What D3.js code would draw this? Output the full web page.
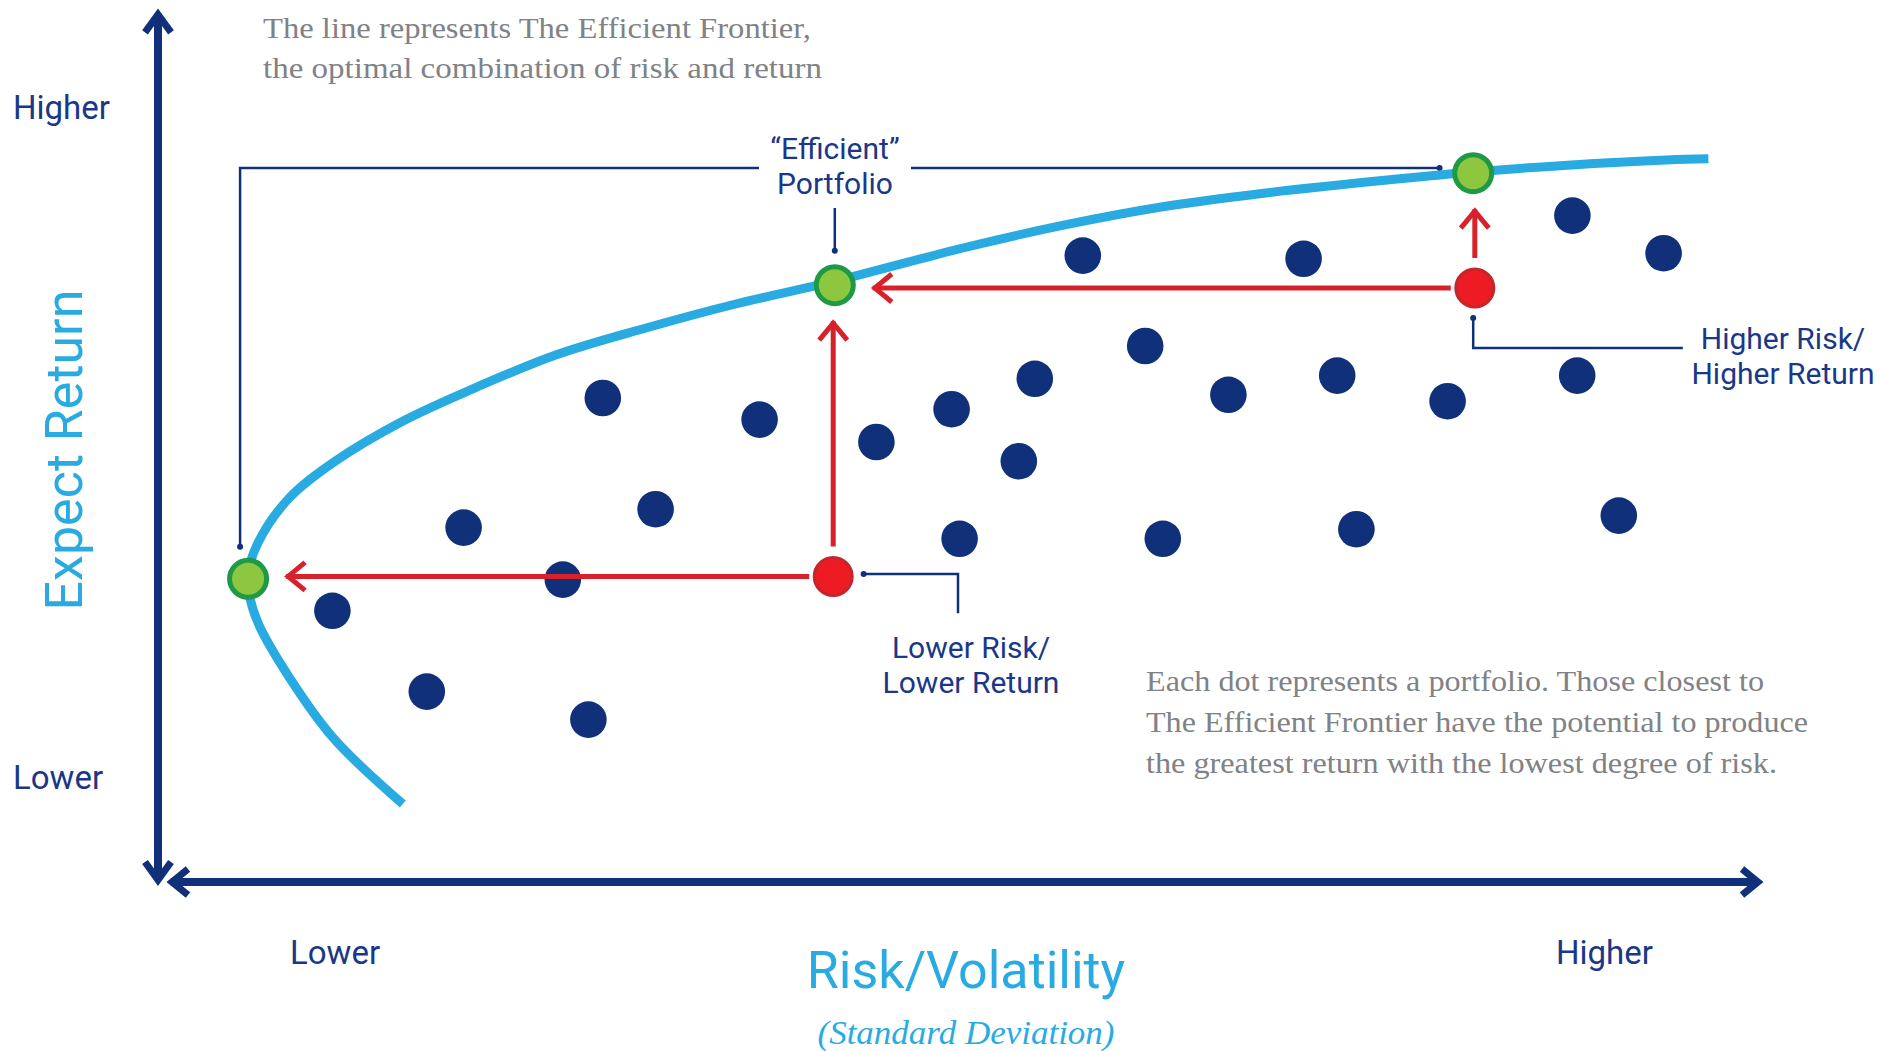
<!DOCTYPE html>
<html>
<head>
<meta charset="utf-8">
<script src="https://cdn.jsdelivr.net/npm/d3@7"></script>
<style>
  html, body { margin: 0; padding: 0; background: #fff; }
  svg { display: block; }
</style>
</head>
<body>
<svg id="chart"></svg>
<script>
// risk / return are in relative units (0-100)

// the efficient frontier, bottom branch first
const frontierRisk = [15.3, 11.0, 8.2, 6.25, 5.63, 5.56, 6.25, 8.2, 11.0, 15.2, 19.4, 24.9, 30.5, 36.1, 42.3, 50.3, 56.6, 62.8, 69.1, 77.6, 82.2, 88.1, 94.3, 96.9];
const frontierReturn = [9.75, 17.9, 25.6, 32.4, 36.5, 37.9, 42.4, 48.0, 52.5, 57.5, 61.4, 65.9, 69.25, 72.25, 75.1, 79.25, 82.1, 84.4, 86.1, 87.9, 88.75, 89.6, 90.25, 90.4];

// the blue dots (portfolios)
const portfolioRisk = [10.9, 16.8, 19.1, 25.3, 26.9, 27.8, 31.1, 37.6, 44.9, 49.6, 50.1, 53.8, 54.8, 57.8, 61.7, 62.8, 66.9, 71.6, 73.7, 74.9, 80.6, 88.4, 88.7, 91.3, 94.1];
const portfolioReturn = [33.9, 23.8, 44.3, 37.8, 20.3, 60.5, 46.6, 57.8, 55.0, 59.1, 42.9, 52.6, 62.9, 78.3, 67.0, 42.9, 60.9, 77.9, 63.3, 44.1, 60.1, 83.3, 63.3, 45.8, 78.6];

// efficient portfolios (green) on the frontier
const efficientRisk = [5.63, 42.3, 82.2];
const efficientReturn = [37.9, 74.6, 88.6];

// inefficient portfolios (red)
const redRisk = [42.2, 82.3];
const redReturn = [38.2, 74.25];

// moves: red index -> green index
const moveFrom = [0, 0, 1, 1];
const moveTo = [0, 1, 1, 2];
const moveDir = ['h', 'v', 'h', 'v'];

const yTickLabels = ['Higher', 'Lower'];
const xTickLabels = ['Lower', 'Higher'];

const W = 1881, H = 1051;
const navy = '#10307a';
const textNavy = '#1a3887';
const sky = '#29abe2';
const grey = '#808286';

const svg = d3.select('#chart').attr('width', W).attr('height', H);
svg.append('rect').attr('width', W).attr('height', H).attr('fill', '#fff');

const x = d3.scaleLinear().domain([0, 100]).range([158, 1758]);
const y = d3.scaleLinear().domain([0, 100]).range([882, 82]);

// ---- axes with arrows
const axisG = svg.append('g').attr('stroke', navy).attr('fill', 'none');
axisG.append('line')
    .attr('x1', x(0)).attr('x2', x(0))
    .attr('y1', y(108.2)).attr('y2', y(0.6))
    .attr('stroke-width', 8);
axisG.append('line')
    .attr('x1', x(0.8)).attr('x2', x(99.9))
    .attr('y1', y(0)).attr('y2', y(0))
    .attr('stroke-width', 8);

function chevron(g, tx, ty, dx, dy, back, half, color, sw) {
    // dx,dy = unit direction of the arrow
    const bx = tx - dx * back, by = ty - dy * back;
    const px = -dy, py = dx;
    g.append('polyline')
        .attr('points', [[bx + px * half, by + py * half], [tx, ty], [bx - px * half, by - py * half]].map(p => p.join(',')).join(' '))
        .attr('fill', 'none')
        .attr('stroke', color)
        .attr('stroke-width', sw)
        .attr('stroke-linejoin', 'miter')
        .attr('stroke-miterlimit', 10);
}
chevron(axisG, x(0), y(108.2) - 2, 0, -1, 18, 13, navy, 7);
chevron(axisG, x(0), y(0) - 2, 0, 1, 18, 13, navy, 7);
chevron(axisG, x(0.75) + 2, y(0), -1, 0, 16, 13, navy, 7);
chevron(axisG, x(100), y(0), 1, 0, 16, 13, navy, 7);

// ---- axis labels
const sans = 'Roboto, "Noto Sans", sans-serif';
const serif = '"Liberation Serif", "DejaVu Serif", serif';

svg.selectAll('.ytick').data(yTickLabels).enter().append('text')
    .attr('class', 'ytick')
    .attr('x', 13)
    .attr('y', (d, i) => i === 0 ? 119 : 789)
    .attr('font-family', sans).attr('font-size', 33)
    .attr('fill', textNavy)
    .text(d => d);

svg.selectAll('.xtick').data(xTickLabels).enter().append('text')
    .attr('class', 'xtick')
    .attr('x', (d, i) => i === 0 ? 290 : 1556)
    .attr('y', 964)
    .attr('font-family', sans).attr('font-size', 33)
    .attr('fill', textNavy)
    .text(d => d);

svg.append('text')
    .attr('transform', 'translate(82,450) rotate(-90)')
    .attr('text-anchor', 'middle')
    .attr('font-family', sans).attr('font-size', 52)
    .attr('fill', sky)
    .text('Expect Return');

svg.append('text')
    .attr('x', 966).attr('y', 988)
    .attr('text-anchor', 'middle')
    .attr('font-family', sans).attr('font-size', 52)
    .attr('fill', sky)
    .text('Risk/Volatility');

svg.append('text')
    .attr('x', 966).attr('y', 1044)
    .attr('text-anchor', 'middle')
    .attr('font-family', serif).attr('font-style', 'italic').attr('font-size', 33)
    .attr('textLength', 297).attr('lengthAdjust', 'spacingAndGlyphs')
    .attr('fill', sky)
    .text('(Standard Deviation)');

// ---- notes
const topNote = ['The line represents The Efficient Frontier,', 'the optimal combination of risk and return'];
const topNoteWidth = [548, 559];
svg.selectAll('.topnote').data(topNote).enter().append('text')
    .attr('class', 'topnote')
    .attr('x', 263)
    .attr('y', (d, i) => 38 + i * 40)
    .attr('font-family', serif).attr('font-size', 30)
    .attr('textLength', (d, i) => topNoteWidth[i]).attr('lengthAdjust', 'spacingAndGlyphs')
    .attr('fill', grey)
    .text(d => d);

const dotNote = ['Each dot represents a portfolio. Those closest to', 'The Efficient Frontier have the potential to produce', 'the greatest return with the lowest degree of risk.'];
const dotNoteWidth = [618, 662, 631];
svg.selectAll('.dotnote').data(dotNote).enter().append('text')
    .attr('class', 'dotnote')
    .attr('x', 1146)
    .attr('y', (d, i) => 691 + i * 41)
    .attr('font-family', serif).attr('font-size', 30)
    .attr('textLength', (d, i) => dotNoteWidth[i]).attr('lengthAdjust', 'spacingAndGlyphs')
    .attr('fill', grey)
    .text(d => d);

// ---- leader lines for the callouts
const leaders = [
    [[5.13, 41.9], [5.13, 89.25], [37.56, 89.25]],
    [[47.06, 89.25], [80.1, 89.25]],
    [[42.3, 84.25], [42.3, 78.9]],
    [[82.2, 70.5], [82.2, 66.75], [95.3, 66.75]],
    [[44.1, 38.5], [50.0, 38.5], [50.0, 33.6]]
];
const leaderEnds = [[5.13, 41.9], [80.1, 89.25], [42.3, 78.9], [82.2, 70.5], [44.1, 38.5]];
const lineGen = d3.line().x(d => x(d[0])).y(d => y(d[1]));
svg.selectAll('.leader').data(leaders).enter().append('path')
    .attr('class', 'leader')
    .attr('d', lineGen)
    .attr('fill', 'none')
    .attr('stroke', navy)
    .attr('stroke-width', 2.5);
svg.selectAll('.leaderEnd').data(leaderEnds).enter().append('circle')
    .attr('cx', d => x(d[0])).attr('cy', d => y(d[1]))
    .attr('r', 3).attr('fill', navy);

// callout labels
const callouts = [
    {lines: ['\u201CEfficient\u201D', 'Portfolio'], cx: 835, y0: 159},
    {lines: ['Higher Risk/', 'Higher Return'], cx: 1783, y0: 349},
    {lines: ['Lower Risk/', 'Lower Return'], cx: 971, y0: 658}
];
callouts.forEach(c => {
    svg.append('g').selectAll('text').data(c.lines).enter().append('text')
        .attr('x', c.cx)
        .attr('y', (d, i) => c.y0 + i * 35)
        .attr('text-anchor', 'middle')
        .attr('font-family', sans).attr('font-size', 30)
        .attr('fill', textNavy)
        .text(d => d);
});

// ---- frontier
const frontier = frontierRisk.map((r, i) => [r, frontierReturn[i]]);
svg.append('path')
    .datum(frontier)
    .attr('d', d3.line().x(d => x(d[0])).y(d => y(d[1])).curve(d3.curveCatmullRom.alpha(0.5)))
    .attr('fill', 'none')
    .attr('stroke', sky)
    .attr('stroke-width', 9);

// ---- portfolios
svg.selectAll('.dot').data(portfolioRisk).enter().append('circle')
    .attr('class', 'dot')
    .attr('cx', d => x(d))
    .attr('cy', (d, i) => y(portfolioReturn[i]))
    .attr('r', 18.3)
    .attr('fill', navy);

// ---- red arrows
const arrowG = svg.append('g');
moveFrom.forEach((f, i) => {
    const sx = x(redRisk[f]), sy = y(redReturn[f]);
    const gx = x(efficientRisk[moveTo[i]]), gy = y(efficientReturn[moveTo[i]]);
    let x1, y1, x2, y2, dx, dy;
    if (moveDir[i] === 'h') {
        x1 = sx - 24; y1 = sy; x2 = gx + 40; y2 = sy; dx = -1; dy = 0;
    } else {
        x1 = sx; y1 = sy - 30; x2 = sx; y2 = gy + 38; dx = 0; dy = -1;
    }
    arrowG.append('line')
        .attr('x1', x1).attr('y1', y1).attr('x2', x2 + dx * 2).attr('y2', y2 + dy * 2)
        .attr('stroke', '#d8222b').attr('stroke-width', 5);
    chevron(arrowG, x2, y2, dx, dy, 17, 14, '#d8222b', 5);
});

svg.selectAll('.red').data(redRisk).enter().append('circle')
    .attr('class', 'red')
    .attr('cx', d => x(d))
    .attr('cy', (d, i) => y(redReturn[i]))
    .attr('r', 19)
    .attr('fill', '#ed1c24')
    .attr('stroke', '#c4262e')
    .attr('stroke-width', 3);

svg.selectAll('.green').data(efficientRisk).enter().append('circle')
    .attr('class', 'green')
    .attr('cx', d => x(d))
    .attr('cy', (d, i) => y(efficientReturn[i]))
    .attr('r', 18.5)
    .attr('fill', '#8dc63f')
    .attr('stroke', '#1e9a47')
    .attr('stroke-width', 5);
</script>
</body>
</html>
